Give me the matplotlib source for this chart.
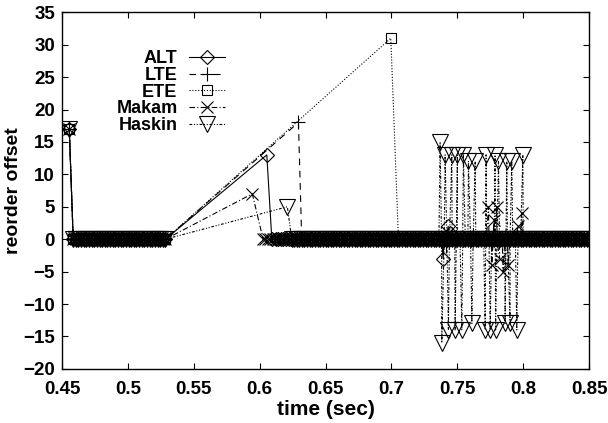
import numpy as np
import matplotlib
matplotlib.use("Agg")
import matplotlib.pyplot as plt

plt.rcParams['font.family'] = ['Liberation Sans', 'DejaVu Sans']
plt.rcParams['font.weight'] = 'bold'

# packets that arrive in order (offset 0) sit on a regular time grid
t_early = np.arange(0.4585, 0.5305, 0.002)
t_late = np.arange(0.6000, 0.8505, 0.002)

# first packet, same for every algorithm
t_first = 0.4555
off_first = 17

names = ['ALT', 'LTE', 'ETE', 'Makam', 'Haskin']
spike_time = [0.6054, 0.6294, 0.6995, 0.5944, 0.6210]
spike_offset = [13, 18, 31, 7, 5]
resume_time = [0.6092, 0.6319, 0.7053, 0.6026, 0.6243]

# reorder burst around 0.74-0.80 s
haskin_burst_t = [0.7369, 0.7382, 0.7407, 0.7432, 0.7458, 0.7483, 0.7500, 0.7534,
                  0.7546, 0.7584, 0.7610, 0.7635, 0.7711, 0.7718, 0.7749, 0.7786,
                  0.7790, 0.7812, 0.7862, 0.7875, 0.7900, 0.7913, 0.7951, 0.7997]
haskin_burst_off = [15, -16, 13, -14, 13, -14, 13, -14,
                    13, 12, -13, 12, -14, 13, -14, 13,
                    -14, 12, -13, 12, -13, 12, -14, 13]
makam_burst_t = [0.7736, 0.7761, 0.7780, 0.7799, 0.7820, 0.7847, 0.7885, 0.7960, 0.7989]
makam_burst_off = [5, -4, 3, 5, -3, -5, -4, 2, 4]
alt_burst_t = [0.7392, 0.7430, 0.7445]
alt_burst_off = [-3, 2, 1]
lte_burst_t = [0.7410, 0.7770]
lte_burst_off = [-1, 1]
ete_burst_t = []
ete_burst_off = []

bursts = {
    'ALT': (alt_burst_t, alt_burst_off),
    'LTE': (lte_burst_t, lte_burst_off),
    'ETE': (ete_burst_t, ete_burst_off),
    'Makam': (makam_burst_t, makam_burst_off),
    'Haskin': (haskin_burst_t, haskin_burst_off),
}

styles = {
    'ALT': dict(marker='D', ms=7.5, ls='-'),
    'LTE': dict(marker='+', ms=10, ls=(0, (6, 5))),
    'ETE': dict(marker='s', ms=7.5, ls=(0, (1, 1.6))),
    'Makam': dict(marker='x', ms=9, ls=(0, (5, 2, 1, 2))),
    'Haskin': dict(marker='v', ms=11, ls=(0, (2.5, 1.5, 1, 1.5, 1, 1.5))),
}

fig = plt.figure(figsize=(6.08, 4.23), dpi=100)
ax = fig.add_axes([0.102, 0.128, 0.867, 0.843])

for name, st, so, rt in zip(names, spike_time, spike_offset, resume_time):
    bt, bo = bursts[name]
    late_t = np.concatenate([[rt], t_late[t_late > rt + 0.001], bt])
    late_o = np.concatenate([[0], np.zeros(np.sum(t_late > rt + 0.001)), bo])
    order = np.argsort(late_t, kind='stable')
    x = np.concatenate([[t_first], t_early, [st], late_t[order]])
    y = np.concatenate([[off_first], np.zeros(len(t_early)), [so], late_o[order]])
    ax.plot(x, y, color='black', lw=0.8, mfc='none', mec='black', mew=0.8,
            label=name, **styles[name])

ax.set_xlim(0.45, 0.85)
ax.set_ylim(-20, 35)
ax.set_xticks(np.arange(0.45, 0.851, 0.05))
ax.set_xticklabels(['0.45', '0.5', '0.55', '0.6', '0.65', '0.7', '0.75', '0.8', '0.85'])
ax.set_yticks(np.arange(-20, 36, 5))
ax.tick_params(direction='in', top=True, right=True, length=4, labelsize=13.5)
ax.tick_params(axis='x', pad=8.5)
ax.tick_params(axis='y', pad=5)
for sp in ax.spines.values():
    sp.set_linewidth(1.0)

ax.set_xlabel('time (sec)', fontsize=15, fontweight='bold', labelpad=2)
ax.set_ylabel('reorder offset', fontsize=14, fontweight='bold', labelpad=1)

ax.legend(loc='upper right', bbox_to_anchor=(0.31, 0.893), markerfirst=False, frameon=False,
          fontsize=13, handlelength=2.0, handletextpad=0.65, labelspacing=-0.02,
          borderpad=0, borderaxespad=0)

fig.savefig('out.png', dpi=100)
